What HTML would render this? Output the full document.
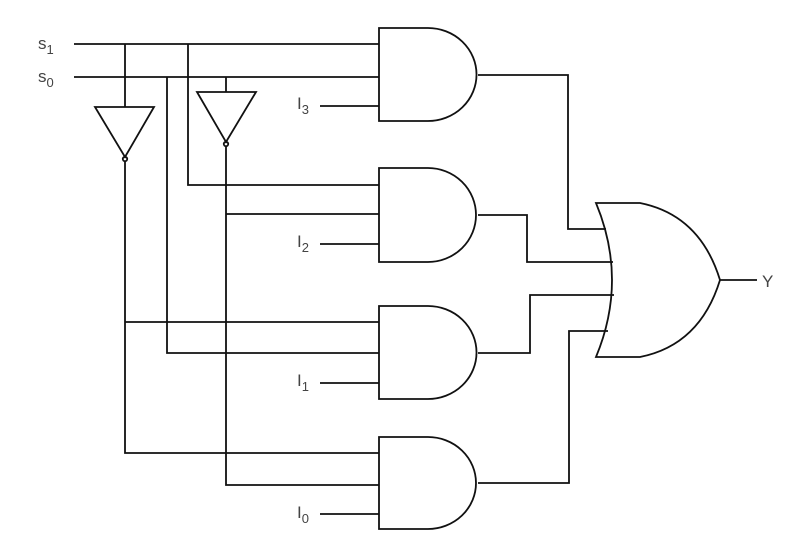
<!DOCTYPE html>
<html><head><meta charset="utf-8"><style>
html,body{margin:0;padding:0;background:#fff;}
svg{display:block;}
text{font-family:"Liberation Sans",sans-serif;font-size:17px;fill:#444;}
.s{font-size:13px;}
</style></head><body>
<svg width="805" height="545" viewBox="0 0 805 545" fill="none" stroke="#111" stroke-width="1.8">
<g stroke="none">
<text x="38" y="49">s<tspan class="s" dy="5">1</tspan></text>
<text x="38" y="82">s<tspan class="s" dy="5">0</tspan></text>
<text x="297" y="109">I<tspan class="s" dy="5">3</tspan></text>
<text x="297" y="247">I<tspan class="s" dy="5">2</tspan></text>
<text x="297" y="386">I<tspan class="s" dy="5">1</tspan></text>
<text x="297" y="518">I<tspan class="s" dy="5">0</tspan></text>
<text x="762" y="287">Y</text>
</g>
<g>
<path d="M74,44 H379 M74,77 H379"/>
<path d="M125,44 V107"/>
<path d="M125,161 V453 H379 M125,322 H379"/>
<path d="M188,44 V185 H379"/>
<path d="M167,77 V353 H379"/>
<path d="M226,77 V92"/>
<path d="M226,146 V485 H379 M226,214 H379"/>
<path d="M320,106 H379 M320,244 H379 M320,383 H379 M320,514 H379"/>
<path d="M478,75 H568 V229 H606"/>
<path d="M478,215 H527 V262 H613"/>
<path d="M478,353 H530 V295 H614"/>
<path d="M478,483 H569 V331 H608"/>
<path d="M720,280 H757"/>
</g>
<g>
<path d="M95,107 H154 L125,157 Z"/>
<circle cx="125" cy="159" r="2.2"/>
<path d="M197,92 H256 L226,142 Z"/>
<circle cx="226" cy="144" r="2.2"/>
</g>
<g>
<path d="M379,28 H428 A48,46 0 0 1 428,121 H379 Z"/>
<path d="M379,168 H428 A48,47 0 0 1 428,262 H379 Z"/>
<path d="M379,306 H428 A48,46 0 0 1 428,399 H379 Z"/>
<path d="M379,437 H428 A48,46 0 0 1 428,529 H379 Z"/>
</g>
<path d="M596,203 L640,203 Q700,215 720,280 Q700,345 640,357 L596,357 Q628,280 596,203 Z"/>
</svg>
</body></html>
